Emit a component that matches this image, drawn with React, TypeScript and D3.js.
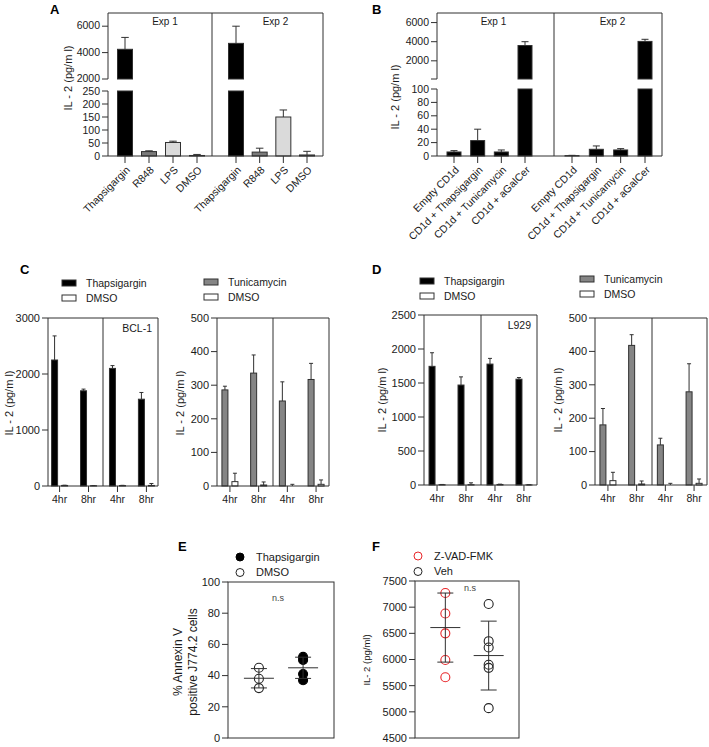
import React from "react";
import * as d3 from "d3";

const FONT = "'Liberation Sans', Arial, Helvetica, sans-serif";
const INK = "#1a1a1a";
const LINE = "#303030";

// ---------- Panel A ----------
const aCategories = ["Thapsigargin", "R848", "LPS", "DMSO"];
const aExperiments = ["Exp 1", "Exp 2"];
const aValues = [
  [4250, 17, 52, 2],
  [4700, 15, 150, 4],
];
const aUpper = [
  [5150, 20, 57, 6],
  [6000, 30, 177, 18],
];
const aLowTicks = [0, 50, 100, 150, 200, 250];
const aHighTicks = [2000, 4000, 6000];
const aColors = ["#000000", "#7a7a7a", "#dadada", "#ffffff"];

// ---------- Panel B ----------
const bCategories = ["Empty CD1d", "CD1d + Thapsigargin", "CD1d + Tunicamycin", "CD1d + aGalCer"];
const bExperiments = ["Exp 1", "Exp 2"];
const bValues = [
  [6, 23, 6, 3600],
  [0.5, 10, 9, 4030],
];
const bUpper = [
  [8, 40, 9, 4000],
  [1, 15, 11, 4250],
];
const bLowTicks = [0, 20, 40, 60, 80, 100];
const bHighTicks = [2000, 4000, 6000];
const bColors = ["#000000", "#000000", "#000000", "#000000"];

// ---------- Panels C / D ----------
const timeLabels = ["4hr", "8hr", "4hr", "8hr"];
const cThaps = [2250, 1700, 2100, 1550];
const cThapsUpper = [2680, 1730, 2150, 1670];
const cThapsDmso = [10, 5, 8, 10];
const cThapsDmsoUpper = [14, 8, 12, 45];
const cTunic = [286, 336, 253, 317];
const cTunicUpper = [297, 390, 310, 365];
const cTunicDmso = [13, 3, 0, 5];
const cTunicDmsoUpper = [38, 12, 5, 18];
const cThapsTicks = [0, 1000, 2000, 3000];
const cTunicTicks = [0, 100, 200, 300, 400, 500];

const dThaps = [1745, 1470, 1778, 1556];
const dThapsUpper = [1945, 1590, 1862, 1580];
const dThapsDmso = [5, 5, 8, 2];
const dThapsDmsoUpper = [8, 32, 12, 4];
const dTunic = [180, 418, 120, 279];
const dTunicUpper = [229, 450, 140, 363];
const dTunicDmso = [13, 3, 0, 5];
const dTunicDmsoUpper = [38, 12, 5, 18];
const dThapsTicks = [0, 500, 1000, 1500, 2000, 2500];
const dTunicTicks = [0, 100, 200, 300, 400, 500];

// ---------- Panel E ----------
const eGroups = ["DMSO", "Thapsigargin"];
const ePoints = [
  [45, 38, 32],
  [52, 50, 41, 37],
];
const eMean = [38.3, 45];
const eSd = [6.2, 6.8];
const eTicks = [0, 20, 40, 60, 80, 100];

// ---------- Panel F ----------
const fGroups = ["Z-VAD-FMK", "Veh"];
const fPoints = [
  [7270, 6880, 6500, 5990, 5660],
  [7060, 6350, 6230, 5900, 5840, 5070],
];
const fMean = [6610, 6075];
const fSd = [660, 658];
const fTicks = [4500, 5000, 5500, 6000, 6500, 7000, 7500];

const Y_LABEL = "IL - 2 (pg/m l)";

function YLabel({ x, y, text, size = 11 }: { x: number; y: number; text: string; size?: number }) {
  return (
    <text transform={`translate(${x},${y}) rotate(-90)`} textAnchor="middle" dy="0.35em" fontSize={size} fill={INK}>
      {text}
    </text>
  );
}

function Letter({ x, y, t }: { x: number; y: number; t: string }) {
  return (
    <text x={x} y={y} fontSize={13} fontWeight="bold" fill="#000">
      {t}
    </text>
  );
}

function ErrUp({ x, y0, y1, cap }: { x: number; y0: number; y1: number; cap: number }) {
  return (
    <g stroke={LINE} strokeWidth={1}>
      <line x1={x} x2={x} y1={y0} y2={y1} />
      <line x1={x - cap / 2} x2={x + cap / 2} y1={y1} y2={y1} />
    </g>
  );
}

type BrokenProps = {
  letter: string;
  letterPos: [number, number];
  xL: number;
  xR: number;
  top: number;
  bottom: number;
  divider: number;
  lowMax: number;
  lowTop: number;
  highDomain: [number, number];
  highBottom: number;
  lowTicks: number[];
  highTicks: number[];
  expRanges: [number, number][];
  expLabels: string[];
  categories: string[];
  values: number[][];
  upper: number[][];
  colors: string[];
  barW: number;
  yLabelPos: [number, number];
};

function BrokenPanel(p: BrokenProps) {
  const yLow = d3.scaleLinear().domain([0, p.lowMax]).range([p.bottom, p.lowTop]);
  const yHigh = d3.scaleLinear().domain(p.highDomain).range([p.highBottom, p.top]);
  const highTickSet = Array.from(new Set([p.highDomain[0], ...p.highTicks]));
  const tickFont = 10.5;
  return (
    <g>
      <Letter x={p.letterPos[0]} y={p.letterPos[1]} t={p.letter} />
      {p.values.map((vals, ei) => {
        const x = d3.scalePoint<string>().domain(p.categories).range(p.expRanges[ei]);
        return vals.map((v, i) => {
          const cx = x(p.categories[i])!;
          const up = p.upper[ei][i];
          const fill = p.colors[i];
          const rects: JSX.Element[] = [];
          if (v <= p.lowMax) {
            rects.push(
              <rect key="l" x={cx - p.barW / 2} y={yLow(v)} width={p.barW} height={Math.max(0, yLow(0) - yLow(v))} fill={fill} stroke={LINE} strokeWidth={1} />
            );
          } else {
            rects.push(
              <rect key="l" x={cx - p.barW / 2} y={p.lowTop} width={p.barW} height={p.bottom - p.lowTop} fill={fill} stroke={LINE} strokeWidth={1} />
            );
            rects.push(
              <rect key="h" x={cx - p.barW / 2} y={yHigh(v)} width={p.barW} height={p.highBottom - yHigh(v)} fill={fill} stroke={LINE} strokeWidth={1} />
            );
          }
          const ys = v <= p.lowMax ? yLow : yHigh;
          return (
            <g key={`${ei}-${i}`}>
              {rects}
              <ErrUp x={cx} y0={ys(v)} y1={ys(up)} cap={p.barW * 0.5} />
              <line x1={cx} x2={cx} y1={p.bottom} y2={p.bottom + 7} stroke={LINE} />
              <text
                transform={`translate(${cx + 3},${p.bottom + 12}) rotate(-45)`}
                textAnchor="end"
                dy="0.35em"
                fontSize={10.5}
                fill={INK}
              >
                {p.categories[i]}
              </text>
            </g>
          );
        });
      })}
      <g stroke={LINE} strokeWidth={1} fill="none">
        <line x1={p.xL} x2={p.xL} y1={p.top} y2={p.highBottom} />
        <line x1={p.xL} x2={p.xL} y1={p.lowTop} y2={p.bottom} />
        <line x1={p.xL} x2={p.xR} y1={p.top} y2={p.top} />
        <line x1={p.xL} x2={p.xR} y1={p.bottom} y2={p.bottom} />
        <line x1={p.xR} x2={p.xR} y1={p.top} y2={p.bottom} />
        <line x1={p.divider} x2={p.divider} y1={p.top} y2={p.bottom} />
      </g>
      {p.lowTicks.map((t) => (
        <g key={`lt${t}`}>
          <line x1={p.xL - 6} x2={p.xL} y1={yLow(t)} y2={yLow(t)} stroke={LINE} />
          <text x={p.xL - 8} y={yLow(t)} dy="0.35em" textAnchor="end" fontSize={tickFont} fill={INK}>
            {t}
          </text>
        </g>
      ))}
      {highTickSet.map((t) => (
        <g key={`ht${t}`}>
          <line x1={p.xL - 6} x2={p.xL} y1={yHigh(t)} y2={yHigh(t)} stroke={LINE} />
          {p.highTicks.includes(t) && (
            <text x={p.xL - 8} y={yHigh(t)} dy="0.3em" textAnchor="end" fontSize={tickFont} fill={INK}>
              {t}
            </text>
          )}
        </g>
      ))}
      {p.expLabels.map((e, ei) => {
        const [a, b] = p.expRanges[ei];
        return (
          <text key={e} x={(a + b) / 2 + 4} y={p.top + 8} dy="0.35em" textAnchor="middle" fontSize={10} fill={INK}>
            {e}
          </text>
        );
      })}
      <YLabel x={p.yLabelPos[0]} y={p.yLabelPos[1]} text={Y_LABEL} />
    </g>
  );
}

type Series = { values: number[]; upper: number[]; fill: string; name: string };

type TimeProps = {
  xL: number;
  xR: number;
  top: number;
  bottom: number;
  divider: number;
  yMax: number;
  ticks: number[];
  series: Series[];
  pad: number;
  yLabelPos: [number, number];
  legendX: number;
  legendY: number;
  cellLabel?: string;
};

function TimePanel(p: TimeProps) {
  const y = d3.scaleLinear().domain([0, p.yMax]).range([p.bottom, p.top]);
  const x = d3.scalePoint<number>().domain(d3.range(timeLabels.length)).range([p.xL, p.xR]).padding(p.pad);
  const offsets = [-5, 5];
  const bw = 6;
  return (
    <g>
      {p.series.map((s, si) => (
        <g key={s.name + si}>
          <rect x={p.legendX} y={p.legendY + si * 15 - 3} width={14} height={6} fill={s.fill} stroke={LINE} strokeWidth={1} />
          <text x={p.legendX + 24} y={p.legendY + si * 15} dy="0.35em" fontSize={10.5} fill={INK}>
            {s.name}
          </text>
        </g>
      ))}
      {p.series.map((s, si) =>
        s.values.map((v, i) => {
          const cx = x(i)! + offsets[si];
          return (
            <g key={`${si}-${i}`}>
              <rect x={cx - bw / 2} y={y(v)} width={bw} height={Math.max(0, y(0) - y(v))} fill={s.fill} stroke={LINE} strokeWidth={1} />
              <ErrUp x={cx} y0={y(v)} y1={y(s.upper[i])} cap={4} />
            </g>
          );
        })
      )}
      <g stroke={LINE} strokeWidth={1} fill="none">
        <line x1={p.xL} x2={p.xL} y1={p.top} y2={p.bottom} />
        <line x1={p.xL} x2={p.xR} y1={p.top} y2={p.top} />
        <line x1={p.xL} x2={p.xR} y1={p.bottom} y2={p.bottom} />
        <line x1={p.xR} x2={p.xR} y1={p.top} y2={p.bottom} />
        <line x1={p.divider} x2={p.divider} y1={p.top} y2={p.bottom} />
      </g>
      {p.ticks.map((t) => (
        <g key={t}>
          <line x1={p.xL - 6} x2={p.xL} y1={y(t)} y2={y(t)} stroke={LINE} />
          <text x={p.xL - 8} y={y(t)} dy="0.35em" textAnchor="end" fontSize={11} fill={INK}>
            {t}
          </text>
        </g>
      ))}
      {timeLabels.map((l, i) => (
        <g key={i}>
          <line x1={x(i)!} x2={x(i)!} y1={p.bottom} y2={p.bottom + 6} stroke={LINE} />
          <text x={x(i)!} y={p.bottom + 13} dy="0.35em" textAnchor="middle" fontSize={10.5} fill={INK}>
            {l}
          </text>
        </g>
      ))}
      {p.cellLabel && (
        <text x={p.xR - 6} y={p.top + 10} dy="0.35em" textAnchor="end" fontSize={10.5} fill={INK}>
          {p.cellLabel}
        </text>
      )}
      <YLabel x={p.yLabelPos[0]} y={p.yLabelPos[1]} text={Y_LABEL} />
    </g>
  );
}

type DotProps = {
  letter: string;
  letterPos: [number, number];
  xL: number;
  xR: number;
  top: number;
  bottom: number;
  domain: [number, number];
  ticks: number[];
  groups: string[];
  points: number[][];
  mean: number[];
  sd: number[];
  fills: string[];
  strokes: string[];
  legendOrder: number[];
  legendX: number;
  legendY: number;
  nsPos: [number, number];
  yLabels: string[];
  yLabelX: number[];
  yLabelY: number;
  yLabelSize: number;
};

function DotPanel(p: DotProps) {
  const y = d3.scaleLinear().domain(p.domain).range([p.bottom, p.top]);
  const x = d3.scalePoint<string>().domain(p.groups).range([p.xL, p.xR]).padding(0.7);
  return (
    <g>
      <Letter x={p.letterPos[0]} y={p.letterPos[1]} t={p.letter} />
      {p.legendOrder.map((gi, k) => (
        <g key={gi}>
          <circle cx={p.legendX} cy={p.legendY + k * 15.5} r={4} fill={p.fills[gi]} stroke={p.strokes[gi]} strokeWidth={1} />
          <text x={p.legendX + 16} y={p.legendY + k * 15.5} dy="0.35em" fontSize={11} fill={INK}>
            {p.groups[gi]}
          </text>
        </g>
      ))}
      <g stroke={LINE} strokeWidth={1} fill="none">
        <rect x={p.xL} y={p.top} width={p.xR - p.xL} height={p.bottom - p.top} />
      </g>
      {p.ticks.map((t) => (
        <g key={t}>
          <line x1={p.xL - 6} x2={p.xL} y1={y(t)} y2={y(t)} stroke={LINE} />
          <text x={p.xL - 8} y={y(t)} dy="0.35em" textAnchor="end" fontSize={11} fill={INK}>
            {t}
          </text>
        </g>
      ))}
      {p.groups.map((g, gi) => {
        const cx = x(g)!;
        const m = p.mean[gi];
        const s = p.sd[gi];
        return (
          <g key={g}>
            {p.points[gi].map((v, k) => (
              <circle key={k} cx={cx} cy={y(v)} r={4.5} fill={p.fills[gi]} stroke={p.strokes[gi]} strokeWidth={1.1} />
            ))}
            <g stroke={LINE} strokeWidth={1}>
              <line x1={cx - 15} x2={cx + 15} y1={y(m)} y2={y(m)} />
              <line x1={cx} x2={cx} y1={y(m + s)} y2={y(m - s)} />
              <line x1={cx - 8} x2={cx + 8} y1={y(m + s)} y2={y(m + s)} />
              <line x1={cx - 8} x2={cx + 8} y1={y(m - s)} y2={y(m - s)} />
            </g>
          </g>
        );
      })}
      <text x={p.nsPos[0]} y={p.nsPos[1]} textAnchor="middle" dy="0.35em" fontSize={9} fill="#444">
        n.s
      </text>
      {p.yLabels.map((l, i) => (
        <YLabel key={l} x={p.yLabelX[i]} y={p.yLabelY} text={l} size={p.yLabelSize} />
      ))}
    </g>
  );
}

export default function App() {
  return (
    <div style={{ position: "absolute", left: 0, top: 0 }}>
      <svg width={709} height={747} viewBox="0 0 709 747" style={{ display: "block", background: "#fff" }} fontFamily={FONT}>
        <BrokenPanel
          letter="A"
          letterPos={[50, 14]}
          xL={108}
          xR={323}
          top={13}
          bottom={156}
          divider={212}
          lowMax={250}
          lowTop={91}
          highDomain={[2000, 7000]}
          highBottom={79}
          lowTicks={aLowTicks}
          highTicks={aHighTicks}
          expRanges={[
            [125, 197],
            [236, 307],
          ]}
          expLabels={aExperiments}
          categories={aCategories}
          values={aValues}
          upper={aUpper}
          colors={aColors}
          barW={15}
          yLabelPos={[68, 78]}
        />
        <BrokenPanel
          letter="B"
          letterPos={[372, 14]}
          xL={437}
          xR={662}
          top={13}
          bottom={156}
          divider={554}
          lowMax={100}
          lowTop={89}
          highDomain={[100, 7000]}
          highBottom={79}
          lowTicks={bLowTicks}
          highTicks={bHighTicks}
          expRanges={[
            [454, 525],
            [572, 645],
          ]}
          expLabels={bExperiments}
          categories={bCategories}
          values={bValues}
          upper={bUpper}
          colors={bColors}
          barW={14}
          yLabelPos={[395, 97]}
        />

        <Letter x={20} y={274} t="C" />
        <TimePanel
          xL={48}
          xR={158}
          top={318}
          bottom={486}
          divider={103}
          yMax={3000}
          ticks={cThapsTicks}
          pad={0.4}
          series={[
            { name: "Thapsigargin", values: cThaps, upper: cThapsUpper, fill: "#000000" },
            { name: "DMSO", values: cThapsDmso, upper: cThapsDmsoUpper, fill: "#ffffff" },
          ]}
          yLabelPos={[9, 403]}
          legendX={62}
          legendY={283}
          cellLabel="BCL-1"
        />
        <TimePanel
          xL={217}
          xR={329}
          top={318}
          bottom={486}
          divider={273}
          yMax={500}
          ticks={cTunicTicks}
          pad={0.45}
          series={[
            { name: "Tunicamycin", values: cTunic, upper: cTunicUpper, fill: "#858585" },
            { name: "DMSO", values: cTunicDmso, upper: cTunicDmsoUpper, fill: "#ffffff" },
          ]}
          yLabelPos={[180, 403]}
          legendX={204}
          legendY={282}
        />

        <Letter x={372} y={274} t="D" />
        <TimePanel
          xL={424}
          xR={537}
          top={315}
          bottom={485}
          divider={481}
          yMax={2500}
          ticks={dThapsTicks}
          pad={0.45}
          series={[
            { name: "Thapsigargin", values: dThaps, upper: dThapsUpper, fill: "#000000" },
            { name: "DMSO", values: dThapsDmso, upper: dThapsDmsoUpper, fill: "#ffffff" },
          ]}
          yLabelPos={[382, 400]}
          legendX={420}
          legendY={281}
          cellLabel="L929"
        />
        <TimePanel
          xL={595}
          xR={707}
          top={318}
          bottom={485}
          divider={652}
          yMax={500}
          ticks={dTunicTicks}
          pad={0.45}
          series={[
            { name: "Tunicamycin", values: dTunic, upper: dTunicUpper, fill: "#858585" },
            { name: "DMSO", values: dTunicDmso, upper: dTunicDmsoUpper, fill: "#ffffff" },
          ]}
          yLabelPos={[558, 400]}
          legendX={580}
          legendY={279}
        />

        <DotPanel
          letter="E"
          letterPos={[178, 551]}
          xL={228}
          xR={334}
          top={582}
          bottom={738}
          domain={[0, 100]}
          ticks={eTicks}
          groups={eGroups}
          points={ePoints}
          mean={eMean}
          sd={eSd}
          fills={["none", "#000000"]}
          strokes={["#222222", "#000000"]}
          legendOrder={[1, 0]}
          legendX={240}
          legendY={557}
          nsPos={[278, 598]}
          yLabels={["% Annexin V", "positive J774.2 cells"]}
          yLabelX={[178, 193]}
          yLabelY={662}
          yLabelSize={12}
        />
        <DotPanel
          letter="F"
          letterPos={[372, 551]}
          xL={415}
          xR={519}
          top={581}
          bottom={738}
          domain={[4500, 7500]}
          ticks={fTicks}
          groups={fGroups}
          points={fPoints}
          mean={fMean}
          sd={fSd}
          fills={["none", "none"]}
          strokes={["#e8262a", "#222222"]}
          legendOrder={[0, 1]}
          legendX={418}
          legendY={556}
          nsPos={[470, 588]}
          yLabels={["IL- 2 (pg/ml)"]}
          yLabelX={[367]}
          yLabelY={660}
          yLabelSize={9.5}
        />
      </svg>
    </div>
  );
}
